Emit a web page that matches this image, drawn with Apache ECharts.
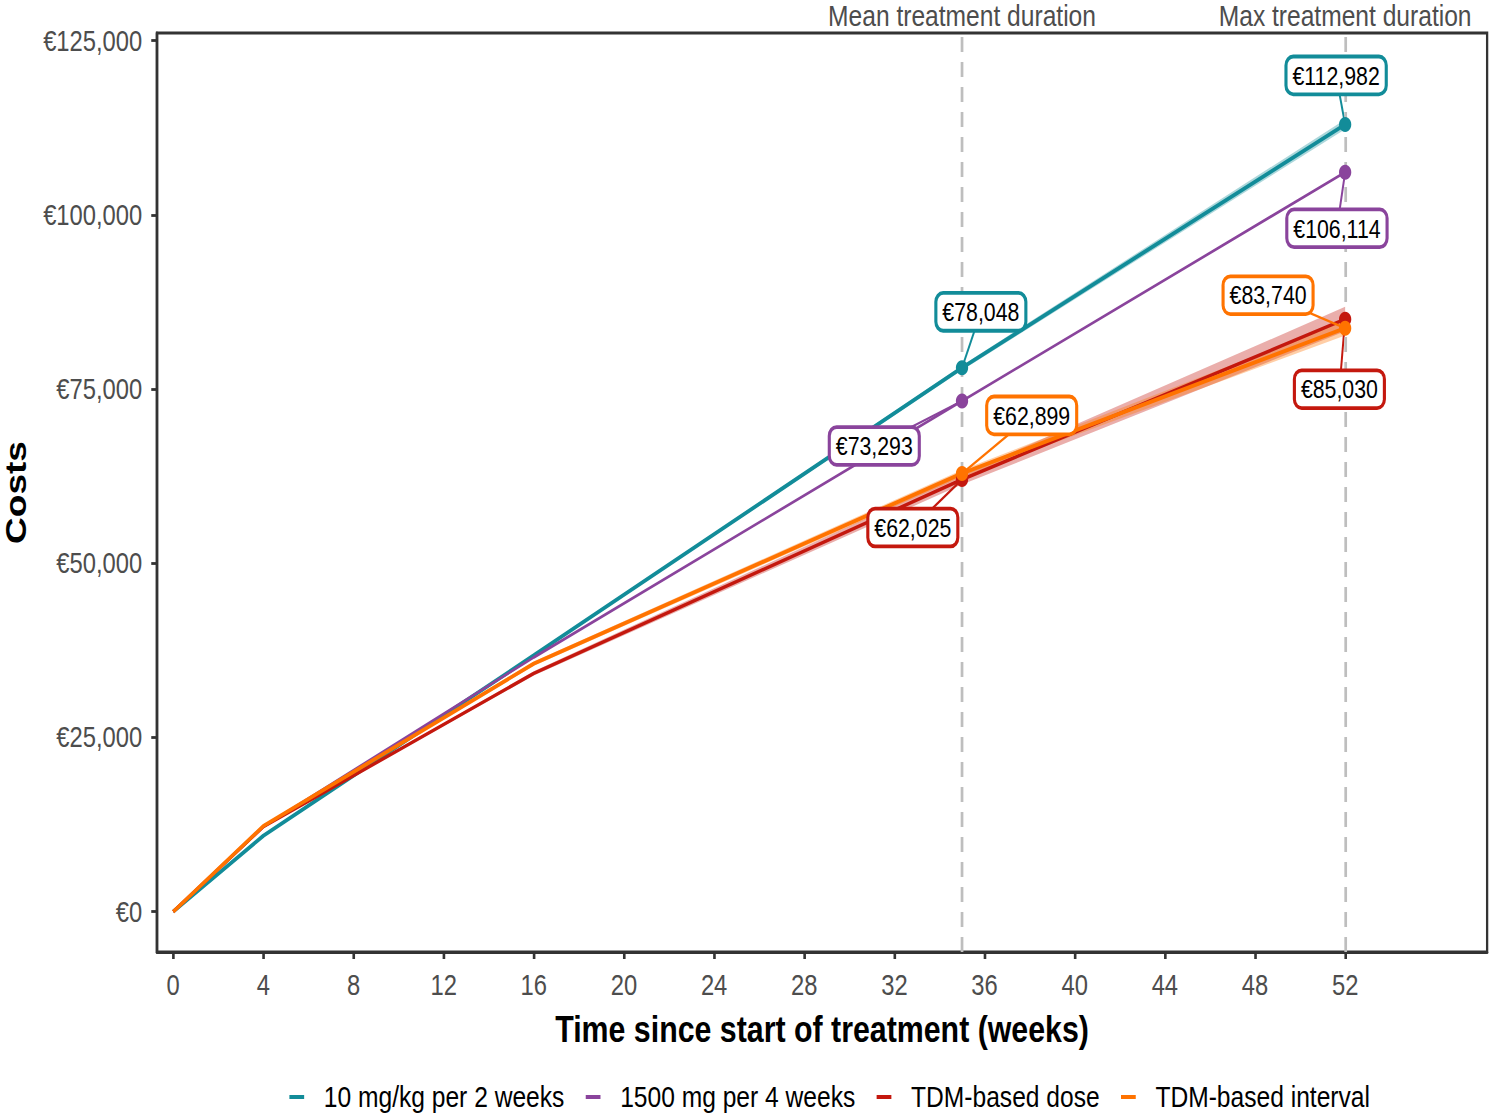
<!DOCTYPE html>
<html>
<head>
<meta charset="utf-8">
<script src="https://cdn.jsdelivr.net/npm/echarts@6/dist/echarts.min.js"></script>
<style>
html,body{margin:0;padding:0;background:#fff;overflow:hidden;width:1497px;height:1114px;}
#chart{width:1826px;height:1114px;transform:scaleX(0.8198);transform-origin:0 0;}
</style>
</head>
<body>
<div id="chart"></div>
<script>
// ---- data ----
const weeks = [0, 4, 16, 35, 52];
const dose10 = [0, 10900, 36800, 78048, 112982];
const dose1500 = [0, 12200, 36500, 73293, 106114];
const tdmDose = [0, 12200, 34200, 62025, 85030];
const tdmInterval = [0, 12300, 35600, 62899, 83740];
// uncertainty ribbons
const dose10Low = [0, 10880, 36700, 77700, 112300];
const dose10High = [0, 10920, 36900, 78400, 113700];
const tdmDoseLow = [0, 12150, 33900, 61300, 83300];
const tdmDoseHigh = [0, 12250, 34500, 62800, 86800];
const tdmIntervalLow = [0, 12250, 35300, 62400, 82700];
const tdmIntervalHigh = [0, 12350, 35900, 63400, 84800];
const seriesNames = ['10 mg/kg per 2 weeks', '1500 mg per 4 weeks', 'TDM-based dose', 'TDM-based interval'];
const xTicks = [0, 4, 8, 12, 16, 20, 24, 28, 32, 36, 40, 44, 48, 52];
const yTicks = [0, 25000, 50000, 75000, 100000, 125000];
const refLines = [{week: 35, name: 'Mean treatment duration'}, {week: 52, name: 'Max treatment duration'}];
const highlightIdx = [3, 4]; // indices of weeks 35 and 52

// ---- styles ----
const colors = ['#128C99', '#8A449C', '#C4180E', '#FF7300'];
const widths = [4, 2.8, 3.5, 4];
const FONT = '"Liberation Sans", Arial, sans-serif';
const labelOffsets = [
  [[23, -56], [-11, -49]],
  [[-107, 45], [-10, 56]],
  [[-60, 48], [-7, 70]],
  [[85, -58], [-94, -33]]
];

const values = [dose10, dose1500, tdmDose, tdmInterval];
const pairs = (arr) => weeks.map((w, i) => [w, arr[i]]);
const euro = (v) => '€' + Math.round(v).toLocaleString('en-US');

const series = [];
// reference lines holder (invisible)
series.push({
  type: 'line', data: pairs(dose10Low), symbol: 'none', lineStyle: {opacity: 0}, silent: true, z: 0,
  markLine: {
    silent: true, symbol: ['none', 'none'],
    lineStyle: {color: '#BEBEBE', type: [15, 10], width: 3.3},
    label: {position: 'end', formatter: '{b}', color: '#4D4D4D', fontSize: 30, fontFamily: FONT, distance: 2},
    data: refLines.map(r => ({xAxis: r.week, name: r.name}))
  }
});
// ribbons
const bands = [[dose10Low, dose10High, 0], [tdmDoseLow, tdmDoseHigh, 2], [tdmIntervalLow, tdmIntervalHigh, 3]];
bands.forEach(([lo, hi, ci]) => {
  series.push({
    type: 'custom', silent: true, z: 1,
    data: weeks.map((w, i) => [w, lo[i], hi[i]]),
    encode: {x: 0, y: [1, 2]},
    renderItem: (params, api) => {
      if (params.dataIndex !== 0) return null;
      const pts = [];
      for (let i = 0; i < weeks.length; i++) pts.push(api.coord([weeks[i], hi[i]]));
      for (let i = weeks.length - 1; i >= 0; i--) pts.push(api.coord([weeks[i], lo[i]]));
      return {type: 'polygon', shape: {points: pts}, style: {fill: colors[ci], opacity: 0.35}};
    }
  });
});
// lines
values.forEach((arr, i) => {
  series.push({
    name: seriesNames[i], type: 'line', data: pairs(arr), showSymbol: false, symbol: 'none',
    color: colors[i], lineStyle: {color: colors[i], width: widths[i]}, z: 2
  });
});
// leader lines
values.forEach((arr, i) => {
  series.push({
    type: 'custom', silent: true, z: 3,
    data: highlightIdx.map(j => [weeks[j], arr[j]]),
    renderItem: (params, api) => {
      const p = api.coord([api.value(0), api.value(1)]);
      const o = labelOffsets[i][params.dataIndex];
      return {type: 'line', shape: {x1: p[0], y1: p[1], x2: p[0] + o[0], y2: p[1] + o[1]},
        style: {stroke: colors[i], lineWidth: 2.4}};
    }
  });
});
// highlighted points with labels
values.forEach((arr, i) => {
  series.push({
    type: 'scatter', data: highlightIdx.map(j => [weeks[j], arr[j]]),
    symbolSize: 15, itemStyle: {color: colors[i], opacity: 1}, z: 5 + i,
    label: {
      show: true, position: 'inside',
      formatter: (p) => euro(p.value[1]),
      color: '#000', fontSize: 26, fontFamily: FONT,
      backgroundColor: '#fff', borderColor: colors[i], borderWidth: 3.8, borderRadius: 7,
      padding: [5, 6, 3, 6]
    },
    labelLayout: (p) => ({dx: labelOffsets[i][p.dataIndex][0], dy: labelOffsets[i][p.dataIndex][1]})
  });
});

const chart = echarts.init(document.getElementById('chart'), null, {renderer: 'svg'});
chart.setOption({
  animation: false,
  backgroundColor: '#fff',
  grid: {left: 191.5, right: 12, top: 33, bottom: 162, show: true, borderColor: '#333', borderWidth: 2.8,
    containLabel: false, outerBoundsMode: 'none'},
  legend: {
    data: seriesNames, top: 1077, left: 348, icon: 'rect', itemWidth: 18, itemHeight: 4, itemGap: 26,
    textStyle: {fontSize: 30, fontFamily: FONT, color: '#000', padding: [0, 0, 0, 19]}
  },
  xAxis: {
    type: 'value', min: -0.72, max: 58.3,
    name: 'Time since start of treatment (weeks)', nameLocation: 'middle', nameGap: 58,
    nameTextStyle: {fontSize: 37, fontWeight: 'bold', fontFamily: FONT, color: '#000'},
    axisLine: {show: true, onZero: false, lineStyle: {color: '#333', width: 2.8}},
    axisTick: {show: true, length: 7, lineStyle: {color: '#333', width: 3.2}, customValues: xTicks},
    axisLabel: {customValues: xTicks, fontSize: 29, fontFamily: FONT, color: '#4D4D4D', margin: 19},
    splitLine: {show: false}
  },
  yAxis: {
    type: 'value', min: -5780, max: 126100,
    name: 'Costs', nameLocation: 'middle', nameGap: 154, nameMoveOverlap: false,
    nameTextStyle: {fontSize: 37, fontWeight: 'bold', fontFamily: FONT, color: '#000'},
    axisLine: {show: true, onZero: false, lineStyle: {color: '#333', width: 3.2}},
    axisTick: {show: true, length: 7, lineStyle: {color: '#333', width: 2.8}, customValues: yTicks},
    axisLabel: {customValues: yTicks, formatter: (v) => euro(v), fontSize: 29, fontFamily: FONT, color: '#4D4D4D', margin: 18},
    splitLine: {show: false}
  },
  series: series
});
</script>
</body>
</html>
